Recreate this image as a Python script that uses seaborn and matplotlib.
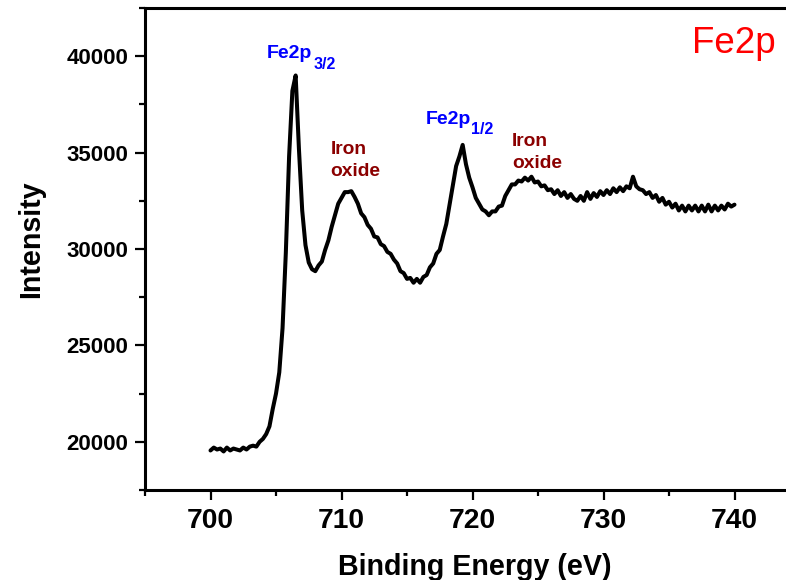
import numpy as np
import pandas as pd
import matplotlib
matplotlib.use("Agg")
import matplotlib.pyplot as plt
import seaborn as sns
from matplotlib.ticker import MultipleLocator

# Fe 2p XPS spectrum, 0.25 eV steps from 700 to 740 eV
energy = np.round(np.arange(700.0, 740.001, 0.25), 2)
intensity = [
    19550, 19700, 19600, 19650, 19500, 19700, 19550, 19650,   # 700.00-701.75
    19600, 19550, 19700, 19600, 19750, 19800, 19750, 20000,   # 702.00-703.75
    20150, 20400, 20800, 21700, 22500, 23600, 25900, 29800,   # 704.00-705.75
    34800, 38200, 39000, 35200, 32000, 30200, 29300, 28950,   # 706.00-707.75
    28850, 29150, 29350, 29950, 30450, 31150, 31750, 32350,   # 708.00-709.75
    32650, 32950, 32950, 33000, 32700, 32350, 31850, 31650,   # 710.00-711.75
    31250, 31050, 30650, 30600, 30250, 30150, 29850, 29750,   # 712.00-713.75
    29450, 29250, 28850, 28750, 28450, 28500, 28250, 28450,   # 714.00-715.75
    28250, 28550, 28650, 29050, 29250, 29750, 29950, 30650,   # 716.00-717.75
    31300, 32300, 33300, 34300, 34800, 35400, 34400, 33700,   # 718.00-719.75
    33200, 32650, 32350, 32050, 31950, 31750, 31950, 31950,   # 720.00-721.75
    32200, 32250, 32750, 33050, 33350, 33350, 33550, 33500,   # 722.00-723.75
    33700, 33550, 33750, 33450, 33500, 33250, 33300, 33050,   # 724.00-725.75
    33100, 32850, 33050, 32750, 32950, 32650, 32850, 32600,   # 726.00-727.75
    32500, 32750, 32500, 32950, 32600, 32900, 32700, 33000,   # 728.00-729.75
    32800, 33050, 32850, 33150, 32950, 33200, 33000, 33250,   # 730.00-731.75
    33150, 33750, 33250, 33100, 33050, 32850, 32950, 32650,   # 732.00-733.75
    32800, 32450, 32650, 32300, 32450, 32150, 32350, 32000,   # 734.00-735.75
    32250, 31950, 32250, 32000, 32250, 31950, 32250, 31950,   # 736.00-737.75
    32300, 31950, 32250, 32000, 32250, 32050, 32350, 32200,   # 738.00-739.75
    32300,                                                    # 740.00
]

x_ticks = [700, 710, 720, 730, 740]
y_ticks = [20000, 25000, 30000, 35000, 40000]

# peak annotations: main text, subscript, baseline anchor (eV, counts)
peak_main = ["Fe2p", "Fe2p"]
peak_sub = ["3/2", "1/2"]
peak_pos = [(704.33, 39900), (716.4, 36480)]
oxide_labels = ["Iron\noxide", "Iron\noxide"]
oxide_pos = [(709.16, 33800), (723.0, 34200)]
title_text = "Fe2p"
title_pos = (736.77, 40190)

df = pd.DataFrame({"Binding Energy (eV)": energy, "Intensity": intensity})

sns.set_theme(style="ticks")
plt.rcParams["font.family"] = ["Liberation Sans", "DejaVu Sans"]
for key in ["text.color", "axes.labelcolor", "xtick.color", "ytick.color", "axes.edgecolor"]:
    plt.rcParams[key] = "black"

fig = plt.figure(figsize=(7.86, 5.80), dpi=100)
ax = fig.add_axes([145 / 786, 90 / 580, 655 / 786, 482 / 580])

sns.lineplot(data=df, x="Binding Energy (eV)", y="Intensity", ax=ax,
             color="black", linewidth=2.9)

ax.set_xlim(695, 745)
ax.set_ylim(17500, 42500)
ax.set_xticks(x_ticks)
ax.set_yticks(y_ticks)
ax.xaxis.set_minor_locator(MultipleLocator(5))
ax.yaxis.set_minor_locator(MultipleLocator(2500))

for side in ["left", "bottom", "top", "right"]:
    ax.spines[side].set_linewidth(2.2)
    ax.spines[side].set_color("black")

ax.tick_params(axis="both", which="major", direction="out", length=7, width=1.6, color="black")
ax.tick_params(axis="both", which="minor", direction="out", length=4, width=1.6, color="black")
ax.tick_params(axis="x", which="major", labelsize=20.3, pad=6)
ax.tick_params(axis="y", which="major", labelsize=16, pad=5)
for lab in ax.get_xticklabels() + ax.get_yticklabels():
    lab.set_fontweight("bold")

ax.set_xlabel("Binding Energy (eV)", fontsize=20.6, fontweight="bold")
ax.set_ylabel("Intensity", fontsize=20.6, fontweight="bold")
ax.xaxis.set_label_coords(0.504, -0.131)
ax.yaxis.set_label_coords(-0.152, 0.52)

for main, sub, (px, py) in zip(peak_main, peak_sub, peak_pos):
    t = ax.text(px, py, main, color="#0000ff", fontsize=14, fontweight="bold",
                ha="left", va="baseline")
    ax.annotate(sub, xy=(1, 0), xycoords=t, xytext=(0.5, -4.6),
                textcoords="offset points", color="#0000ff", fontsize=11.5,
                fontweight="bold", ha="left", va="baseline")

for text, (px, py) in zip(oxide_labels, oxide_pos):
    ax.text(px, py, text, color="#8b0000", fontsize=13.8, fontweight="bold",
            ha="left", va="baseline", linespacing=1.35)

ax.text(title_pos[0], title_pos[1], title_text, color="#ff0000", fontsize=26.5,
        ha="left", va="baseline")

fig.savefig("out.png", dpi=100)
